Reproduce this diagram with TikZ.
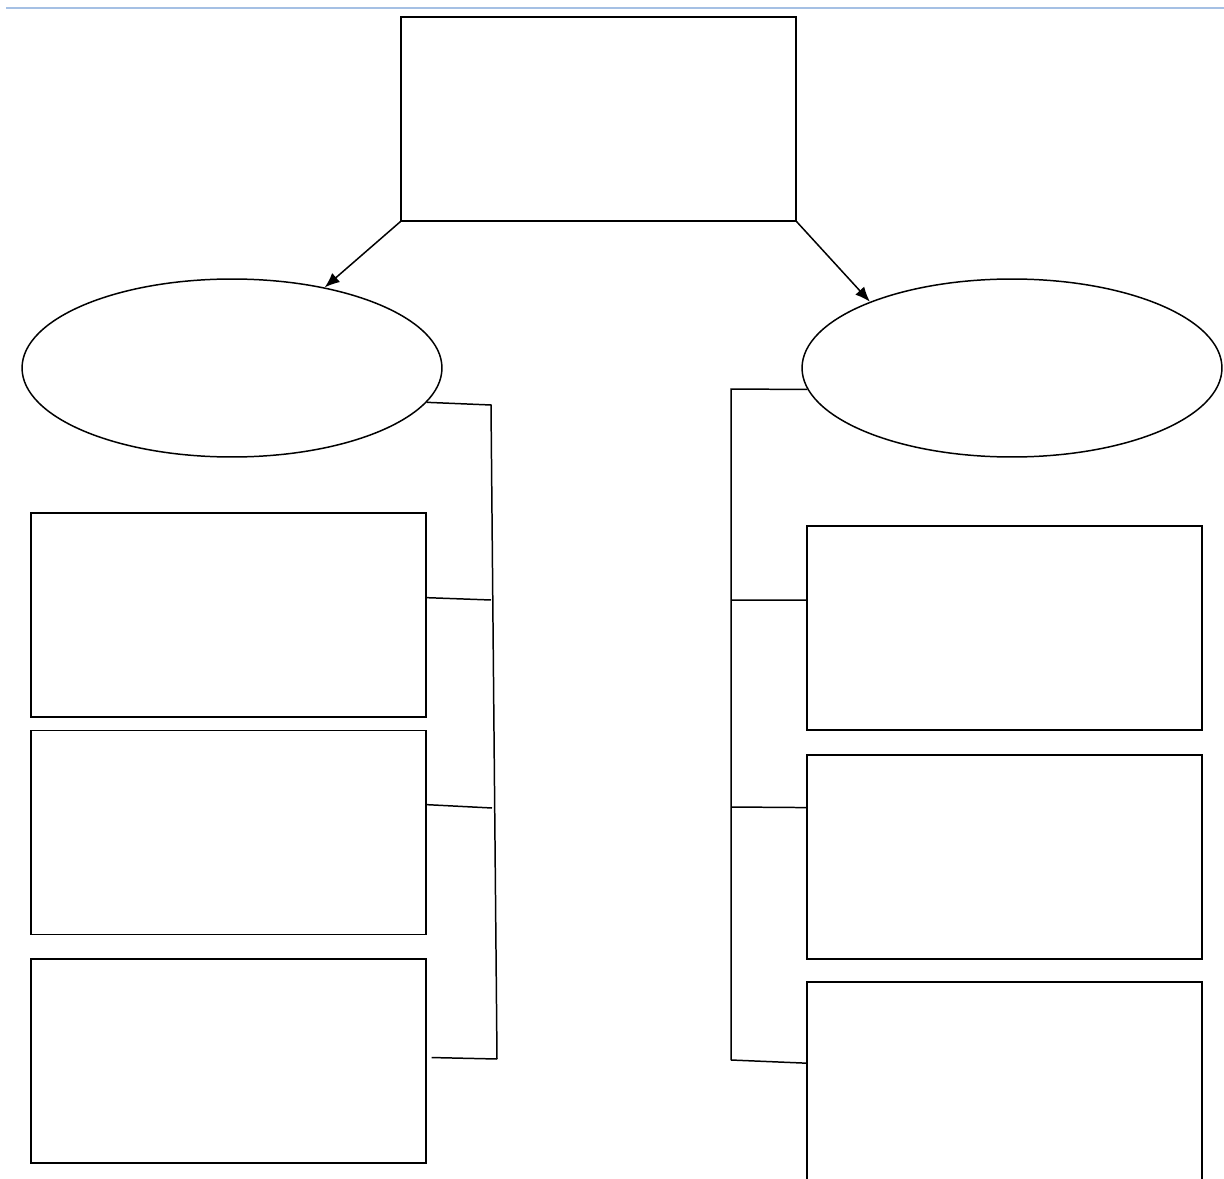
\documentclass[tikz,border=0pt]{standalone}
\usepackage{tikz}
\usetikzlibrary{arrows.meta,shapes.geometric}
\definecolor{rulecol}{RGB}{165,192,228}
\tikzset{
    x=0.02cm,
    y=-0.02cm,
    box/.style = {
        draw,
        shape=rectangle,
        minimum height=4.08cm,
        minimum width=7.9cm,
        line width=0.85pt
    },
    topic/.style = {
        draw,
        shape=ellipse,
        minimum height=3.56cm,
        minimum width=8.4cm,
        line width=0.85pt
    },
    link/.style = {
        line width=0.85pt
    },
    rule/.style = {
        line width=1.3pt,
        color=rulecol
    },
    >={Latex[length=3mm,width=2.4mm]},
}
\begin{document}
\begin{tikzpicture}
                \useasboundingbox (0,0) rectangle (1224,1179);
                \clip (0,0) rectangle (1224,1179);
                \draw[rule] (6,8) -- (1224,8);

                \node[box] (main) at (598.5,119) {};
                \node[topic] (lell) at (232,368) {};
                \node[topic] (rell) at (1012,368) {};
                \node[box] (lbox1) at (228.5,615) {};
                \node[box] (lbox2) at (228.5,832.5) {};
                \node[box] (lbox3) at (228.5,1061) {};
                \node[box] (rbox1) at (1004.5,628) {};
                \node[box] (rbox2) at (1004.5,857) {};
                \node[box] (rbox3) at (1004.5,1084) {};

                \coordinate (lj0) at (491,405);
                \coordinate (lj1) at (491,600);
                \coordinate (lj2) at (492,808);
                \coordinate (lj3) at (497,1059);
                \coordinate (rj0) at (731,389);
                \coordinate (rj1) at (731,600);
                \coordinate (rj2) at (731,807);
                \coordinate (rj3) at (731,1060);

                \path[draw, link, ->] (main.south west) -- (lell.41);
                \path[draw, link, ->] (main.south east) -- (rell.155);

                \path[draw, link] (lell.-10) -- (lj0) -- (lj3);
                \path[draw, link] (lbox1.5) -- (lj1);
                \path[draw, link] (lbox2.8) -- (lj2);
                \path[draw, link] ([xshift=0.1cm]lbox3.1.5) -- (lj3);

                \path[draw, link] (rell.186) -- (rj0) -- (rj3);
                \path[draw, link] (rj1) -- (rbox1.172);
                \path[draw, link] (rj2) -- (rbox2.166);
                \path[draw, link] (rj3) -- (rbox3.174);
            \end{tikzpicture}
\end{document}
